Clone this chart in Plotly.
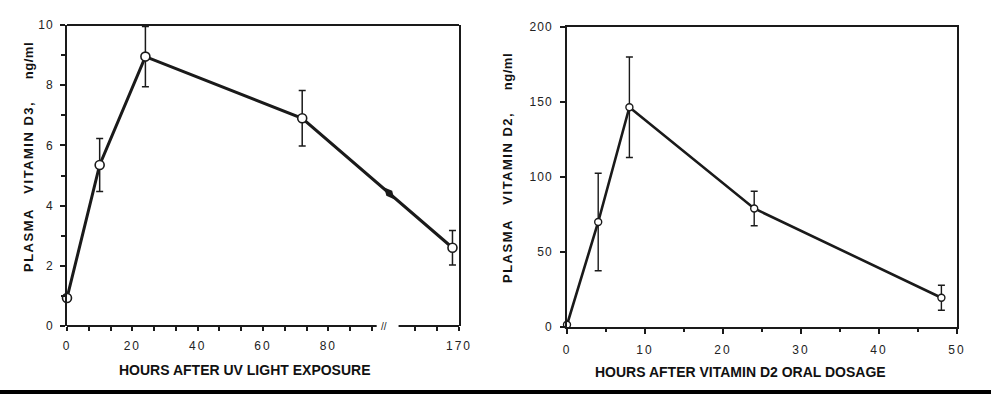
import plotly.graph_objects as go

# ---------------- data ----------------
# Left panel: vitamin D3 after UV light exposure
hours_d3 = [0, 10, 24, 72, 168]
d3_ngml = [0.93, 5.35, 8.95, 6.9, 2.6]
d3_err = [0, 0.88, 1.0, 0.92, 0.57]

# Right panel: vitamin D2 after oral dosage
hours_d2 = [0, 4, 8, 24, 48]
d2_ngml = [1.5, 70, 146.5, 79, 19.5]
d2_err = [0, 32.5, 33.5, 11.5, 8.3]

left_major_ticks = [0, 20, 40, 60, 80, 170]
right_x_ticks = [0, 10, 20, 30, 40, 50]
left_y_ticks = [0, 2, 4, 6, 8, 10]
right_y_ticks = [0, 50, 100, 150, 200]

# broken axis: hours beyond the break are shifted left by BREAK_SHIFT
BREAK_START, BREAK_END = 94.8, 101.5
BREAK_SHIFT = 50


def disp(h):
    return h if h < BREAK_START else h - BREAK_SHIFT


def spaced(t, px=2):
    return f'<span style="letter-spacing:{px}px">{t}</span>'


INK = "#1a1a1a"
TICKFONT = dict(family="Liberation Sans, Arial, sans-serif", size=12, color="#222")

fig = go.Figure()

# left panel
fig.add_trace(go.Scatter(
    x=[disp(h) for h in hours_d3], y=d3_ngml, mode="lines+markers",
    line=dict(color=INK, width=3),
    marker=dict(symbol="circle", size=9, color="white", line=dict(color=INK, width=1.6)),
    error_y=dict(type="data", array=d3_err, visible=True, color=INK, thickness=1.5, width=3.5),
    cliponaxis=False, showlegend=False, xaxis="x", yaxis="y",
))

# break mark on the line (interpolated along the segment crossing the break)
i0 = next(i for i, h in enumerate(hours_d3) if h > BREAK_START) - 1
xa, xb = disp(hours_d3[i0]), disp(hours_d3[i0 + 1])
xm = (BREAK_START + BREAK_END) / 2 + 0.5
t = (xm - xa) / (xb - xa)
ym = d3_ngml[i0] + t * (d3_ngml[i0 + 1] - d3_ngml[i0])
fig.add_trace(go.Scatter(
    x=[xm], y=[ym], mode="markers",
    marker=dict(symbol="diamond-tall", size=11, color=INK, angle=-40),
    showlegend=False, xaxis="x", yaxis="y", cliponaxis=False,
))

# right panel
fig.add_trace(go.Scatter(
    x=hours_d2, y=d2_ngml, mode="lines+markers",
    line=dict(color=INK, width=2.6),
    marker=dict(symbol="circle", size=7, color="white", line=dict(color=INK, width=1.4)),
    error_y=dict(type="data", array=d2_err, visible=True, color=INK, thickness=1.4, width=3.5),
    cliponaxis=False, showlegend=False, xaxis="x2", yaxis="y2",
))

left_tickvals = [disp(v) for v in left_major_ticks]
left_minor = [k * 20 / 3 for k in range(15) if k % 3 != 0] + [disp(170 - 20 / 3), disp(170 - 40 / 3)]

fig.update_layout(
    width=991, height=394, autosize=False,
    margin=dict(l=0, r=0, t=0, b=0, pad=0, autoexpand=False),
    paper_bgcolor="white", plot_bgcolor="white",
    xaxis=dict(
        domain=[67 / 991, 459 / 991], range=[0, 120], anchor="y", automargin=False,
        showline=False, showgrid=False, zeroline=False,
        tickmode="array", tickvals=left_tickvals,
        ticktext=[spaced(str(v)) for v in left_major_ticks],
        ticks="outside", ticklen=4, tickwidth=1.5, tickcolor=INK,
        tickfont=TICKFONT, ticklabelstandoff=5,
        minor=dict(tickmode="array", tickvals=left_minor, ticks="outside",
                   ticklen=4, tickwidth=1.5, tickcolor=INK, showgrid=False),
    ),
    yaxis=dict(
        domain=[68 / 394, 369 / 394], range=[0, 10], anchor="x", automargin=False,
        showline=True, mirror=True, linewidth=2, linecolor=INK,
        showgrid=False, zeroline=False,
        tickmode="array", tickvals=left_y_ticks,
        ticktext=[spaced(str(v), 1) for v in left_y_ticks],
        ticks="outside", ticklen=5, tickwidth=1.5, tickcolor=INK,
        tickfont=TICKFONT, ticklabelstandoff=4,
        minor=dict(dtick=1, ticks="outside", ticklen=4, tickwidth=1.5, tickcolor=INK, showgrid=False),
    ),
    xaxis2=dict(
        domain=[567 / 991, 957 / 991], range=[0, 50], anchor="y2", automargin=False,
        showline=True, mirror=True, linewidth=2, linecolor=INK,
        showgrid=False, zeroline=False,
        tickmode="array", tickvals=right_x_ticks,
        ticktext=[spaced(str(v)) for v in right_x_ticks],
        ticks="outside", ticklen=5, tickwidth=1.5, tickcolor=INK,
        tickfont=TICKFONT, ticklabelstandoff=6,
        minor=dict(dtick=5, ticks="outside", ticklen=3, tickwidth=1.5, tickcolor=INK, showgrid=False),
    ),
    yaxis2=dict(
        domain=[67 / 394, 367 / 394], range=[0, 200], anchor="x2", automargin=False,
        showline=True, mirror=True, linewidth=2, linecolor=INK,
        showgrid=False, zeroline=False,
        tickmode="array", tickvals=right_y_ticks,
        ticktext=[spaced(str(v), 1) for v in right_y_ticks],
        ticks="outside", ticklen=5, tickwidth=1.5, tickcolor=INK,
        tickfont=TICKFONT, ticklabelstandoff=5,
    ),
)

shapes = [
    # left frame: top line and broken bottom axis
    dict(type="line", xref="x", yref="y domain", x0=0, x1=120, y0=1, y1=1,
         line=dict(color=INK, width=2)),
    dict(type="line", xref="x", yref="y domain", x0=0, x1=BREAK_START, y0=0, y1=0,
         line=dict(color=INK, width=2)),
    dict(type="line", xref="x", yref="y domain", x0=BREAK_END, x1=120, y0=0, y1=0,
         line=dict(color=INK, width=2)),
    # black strip at the bottom of the image
    dict(type="rect", xref="paper", yref="paper", x0=0, x1=1, y0=0, y1=4 / 394,
         fillcolor="black", line=dict(width=0), layer="above"),
]
fig.update_layout(shapes=shapes)

TITLEFONT = dict(family="Liberation Sans Narrow, Arial Narrow, Liberation Sans, sans-serif",
                 size=14, color="#111")
YTITLEFONT = dict(family="Liberation Sans, Arial, sans-serif", size=13, color="#111")
GAP1 = "\u00a0" * 4
GAP2 = "\u00a0" * 6


def ytitle(vit):
    return (f"<b>{spaced('PLASMA', 1.5)}{GAP1}{spaced(vit, 1.5)}{GAP2}"
            f"{spaced('ng/ml', 0.5)}</b>")


annotations = [
    dict(text="//", xref="x", yref="y domain", x=(BREAK_START + BREAK_END) / 2 - 1, y=0,
         showarrow=False, font=dict(size=10, color=INK, family="Liberation Sans"),
         xanchor="center", yanchor="middle"),
    dict(text="<b>HOURS AFTER UV LIGHT EXPOSURE</b>", xref="paper", yref="paper",
         x=245 / 991, y=(394 - 370) / 394, showarrow=False, font=TITLEFONT,
         xanchor="center", yanchor="middle"),
    dict(text="<b>HOURS AFTER VITAMIN D2 ORAL DOSAGE</b>", xref="paper", yref="paper",
         x=740 / 991, y=(394 - 372) / 394, showarrow=False, font=TITLEFONT,
         xanchor="center", yanchor="middle"),
    dict(text=ytitle("VITAMIN D3,"),
         xref="paper", yref="paper", x=28 / 991, y=(394 - 157) / 394, textangle=-90,
         showarrow=False, font=YTITLEFONT, xanchor="center", yanchor="middle"),
    dict(text=ytitle("VITAMIN D2,"),
         xref="paper", yref="paper", x=508 / 991, y=(394 - 168) / 394, textangle=-90,
         showarrow=False, font=YTITLEFONT, xanchor="center", yanchor="middle"),
]
fig.update_layout(annotations=annotations)

POST = (
    "document.documentElement.style.margin='0px';"
    "document.documentElement.style.overflow='hidden';"
    "document.body.style.margin='0px';"
    "document.body.style.overflow='hidden';"
    "var gd=document.getElementById('{plot_id}');"
    "gd.style.position='fixed';gd.style.left='0px';gd.style.top='0px';"
)

fig.write_html("out.html", config={"displayModeBar": False}, post_script=POST)
